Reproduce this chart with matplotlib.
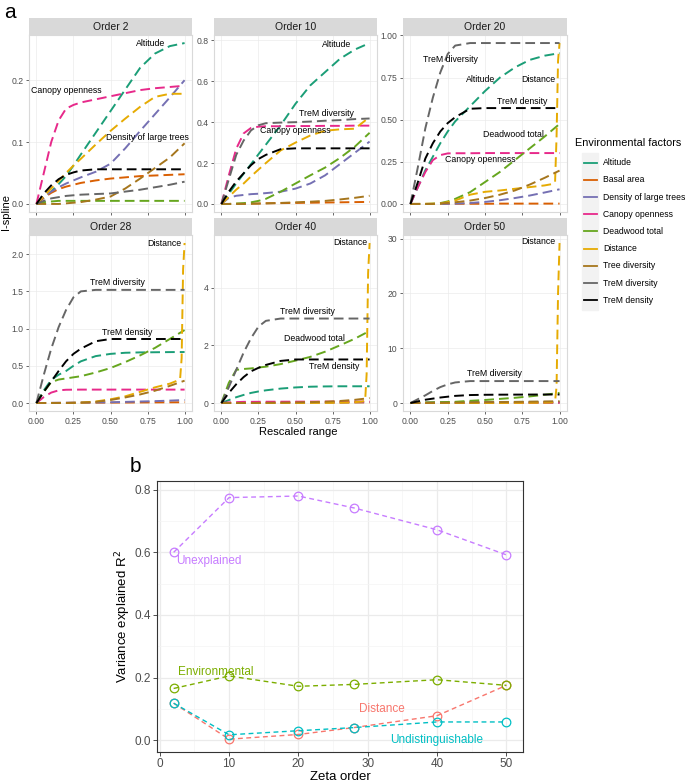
import matplotlib
matplotlib.use("Agg")
import matplotlib.pyplot as plt
from matplotlib.lines import Line2D
from matplotlib.patches import Rectangle
from matplotlib.ticker import MultipleLocator

plt.rcParams["font.family"] = ["Liberation Sans", "DejaVu Sans"]

W, H = 685, 784

# ---- panel a data: I-spline values ----------------------------------------
FACTORS = ["Altitude", "Basal area", "Density of large trees", "Canopy openness",
           "Deadwood total", "Distance", "Tree diversity", "TreM diversity",
           "TreM density"]
COLORS = ["#1B9E77", "#D95F02", "#7570B3", "#E7298A", "#66A61E", "#E6AB02",
          "#A6761D", "#666666", "#000000"]

X_GRID = [0, 0.05, 0.1, 0.15, 0.2, 0.25, 0.3, 0.4, 0.5, 0.6, 0.7, 0.8, 0.9, 1.0]
X_STEP = [0, 0.2, 0.3, 0.4, 0.5, 0.6, 0.7, 0.8, 0.9, 0.95, 0.97, 0.98, 0.99, 1.0]

ORDER2 = {
    "Altitude": [0, 0.01, 0.02, 0.032, 0.045, 0.062, 0.08, 0.115, 0.15, 0.185, 0.22, 0.243, 0.255, 0.26],
    "Basal area": [0, 0.01, 0.018, 0.024, 0.028, 0.031, 0.034, 0.038, 0.041, 0.043, 0.045, 0.046, 0.047, 0.048],
    "Density of large trees": [0, 0.012, 0.02, 0.027, 0.033, 0.038, 0.043, 0.052, 0.065, 0.09, 0.118, 0.145, 0.172, 0.2],
    "Canopy openness": [0, 0.05, 0.1, 0.135, 0.154, 0.16, 0.164, 0.169, 0.174, 0.179, 0.184, 0.187, 0.189, 0.191],
    "Deadwood total": [0, 0.003, 0.004, 0.005, 0.005, 0.005, 0.005, 0.005, 0.005, 0.005, 0.005, 0.005, 0.005, 0.005],
    "Distance": [0, 0.013, 0.025, 0.037, 0.05, 0.062, 0.073, 0.096, 0.118, 0.138, 0.157, 0.173, 0.178, 0.178],
    "Tree diversity": [0, 0, 0, 0, 0.001, 0.002, 0.003, 0.007, 0.012, 0.025, 0.041, 0.058, 0.075, 0.098],
    "TreM diversity": [0, 0.005, 0.009, 0.011, 0.013, 0.014, 0.015, 0.016, 0.017, 0.02, 0.023, 0.027, 0.031, 0.036],
    "TreM density": [0, 0.017, 0.03, 0.04, 0.047, 0.051, 0.054, 0.056, 0.056, 0.056, 0.056, 0.056, 0.056, 0.056],
}
ORDER10 = {
    "Altitude": [0, 0.05, 0.1, 0.148, 0.195, 0.243, 0.29, 0.385, 0.49, 0.58, 0.645, 0.71, 0.755, 0.787],
    "Basal area": [0, 0, 0.001, 0.001, 0.002, 0.002, 0.003, 0.004, 0.005, 0.006, 0.007, 0.008, 0.009, 0.01],
    "Density of large trees": [0, 0.03, 0.04, 0.044, 0.048, 0.05, 0.053, 0.06, 0.075, 0.1, 0.14, 0.195, 0.25, 0.305],
    "Canopy openness": [0, 0.14, 0.27, 0.345, 0.372, 0.378, 0.38, 0.38, 0.381, 0.381, 0.382, 0.382, 0.383, 0.383],
    "Deadwood total": [0, 0, 0.002, 0.004, 0.008, 0.015, 0.025, 0.06, 0.1, 0.14, 0.178, 0.225, 0.28, 0.348],
    "Distance": [0, 0.035, 0.07, 0.1, 0.135, 0.168, 0.2, 0.262, 0.3, 0.335, 0.358, 0.365, 0.368, 0.425],
    "Tree diversity": [0, 0, 0, 0, 0.001, 0.002, 0.003, 0.005, 0.008, 0.011, 0.015, 0.022, 0.03, 0.04],
    "TreM diversity": [0, 0.12, 0.24, 0.31, 0.36, 0.385, 0.395, 0.398, 0.4, 0.403, 0.407, 0.41, 0.415, 0.418],
    "TreM density": [0, 0.06, 0.11, 0.15, 0.19, 0.22, 0.24, 0.268, 0.272, 0.272, 0.272, 0.272, 0.272, 0.272],
}
ORDER20 = {
    "Altitude": [0, 0.1, 0.2, 0.28, 0.36, 0.43, 0.49, 0.58, 0.67, 0.75, 0.81, 0.855, 0.88, 0.895],
    "Basal area": [0, 0, 0, 0, 0, 0.001, 0.001, 0.001, 0.001, 0.002, 0.002, 0.002, 0.002, 0.002],
    "Density of large trees": [0, 0, 0, 0, 0, 0.001, 0.002, 0.006, 0.012, 0.022, 0.035, 0.05, 0.068, 0.087],
    "Canopy openness": [0, 0.1, 0.19, 0.26, 0.29, 0.3, 0.301, 0.301, 0.302, 0.302, 0.302, 0.302, 0.302, 0.302],
    "Deadwood total": [0, 0, 0, 0.002, 0.005, 0.015, 0.03, 0.07, 0.13, 0.19, 0.26, 0.33, 0.4, 0.475],
    "Distance": [0, 0.002, 0.02, 0.055, 0.072, 0.08, 0.09, 0.1, 0.11, 0.118, 0.13, 0.4, 0.85, 0.955],
    "Tree diversity": [0, 0, 0, 0, 0.003, 0.006, 0.01, 0.02, 0.035, 0.055, 0.08, 0.115, 0.155, 0.198],
    "TreM diversity": [0, 0.22, 0.45, 0.63, 0.78, 0.89, 0.94, 0.955, 0.955, 0.955, 0.955, 0.955, 0.955, 0.955],
    "TreM density": [0, 0.13, 0.27, 0.36, 0.43, 0.48, 0.515, 0.565, 0.569, 0.569, 0.569, 0.569, 0.569, 0.569],
}
ORDER28 = {
    "Altitude": [0, 0.17, 0.31, 0.38, 0.43, 0.5, 0.56, 0.63, 0.66, 0.675, 0.68, 0.682, 0.684, 0.685],
    "Basal area": [0, 0, 0.001, 0.002, 0.002, 0.003, 0.003, 0.004, 0.005, 0.006, 0.007, 0.008, 0.009, 0.01],
    "Density of large trees": [0, 0, 0.002, 0.003, 0.004, 0.005, 0.006, 0.008, 0.01, 0.015, 0.02, 0.025, 0.032, 0.04],
    "Canopy openness": [0, 0.08, 0.14, 0.17, 0.178, 0.179, 0.18, 0.18, 0.18, 0.18, 0.18, 0.18, 0.18, 0.18],
    "Deadwood total": [0, 0.15, 0.28, 0.315, 0.33, 0.345, 0.36, 0.41, 0.47, 0.55, 0.64, 0.74, 0.86, 0.98],
    "Distance": [0, 0.0, 0.005, 0.02, 0.05, 0.09, 0.15, 0.21, 0.26, 0.3, 0.33, 0.6, 1.8, 2.15],
    "Tree diversity": [0, 0, 0, 0, 0, 0.002, 0.005, 0.015, 0.04, 0.075, 0.115, 0.165, 0.23, 0.3],
    "TreM diversity": [0, 0.38, 0.73, 1.02, 1.25, 1.42, 1.5, 1.52, 1.52, 1.52, 1.52, 1.52, 1.52, 1.52],
    "TreM density": [0, 0.15, 0.29, 0.43, 0.56, 0.66, 0.73, 0.83, 0.86, 0.86, 0.86, 0.86, 0.86, 0.86],
}
ORDER40 = {
    "Altitude": [0, 0.1, 0.2, 0.28, 0.35, 0.4, 0.44, 0.5, 0.54, 0.565, 0.575, 0.58, 0.58, 0.58],
    "Basal area": [0, 0, 0.001, 0.002, 0.003, 0.004, 0.005, 0.007, 0.009, 0.011, 0.013, 0.015, 0.017, 0.02],
    "Density of large trees": [0, 0.002, 0.004, 0.006, 0.008, 0.01, 0.012, 0.015, 0.018, 0.02, 0.022, 0.025, 0.027, 0.03],
    "Canopy openness": [0, 0.02, 0.03, 0.04, 0.04, 0.042, 0.044, 0.045, 0.046, 0.047, 0.048, 0.049, 0.05, 0.05],
    "Deadwood total": [0, 0.7, 1.15, 1.18, 1.2, 1.23, 1.26, 1.35, 1.47, 1.6, 1.78, 2.0, 2.23, 2.5],
    "Distance": [0, 0, 0, 0, 0.002, 0.004, 0.006, 0.01, 0.03, 0.05, 0.08, 1.0, 4.5, 5.55],
    "Tree diversity": [0, 0, 0, 0, 0.002, 0.005, 0.008, 0.013, 0.02, 0.03, 0.045, 0.07, 0.11, 0.17],
    "TreM diversity": [0, 0.55, 1.15, 1.75, 2.25, 2.65, 2.85, 2.93, 2.93, 2.93, 2.93, 2.93, 2.93, 2.93],
    "TreM density": [0, 0.35, 0.65, 0.9, 1.1, 1.22, 1.32, 1.46, 1.51, 1.51, 1.51, 1.51, 1.51, 1.51],
}
ORDER50 = {
    "Altitude": [0, 0.03, 0.06, 0.09, 0.11, 0.13, 0.15, 0.17, 0.18, 0.19, 0.2, 0.2, 0.2, 0.2],
    "Basal area": [0, 0, 0.01, 0.01, 0.02, 0.02, 0.03, 0.03, 0.04, 0.04, 0.05, 0.05, 0.06, 0.06],
    "Density of large trees": [0, 0, 0.01, 0.01, 0.02, 0.02, 0.02, 0.03, 0.03, 0.04, 0.04, 0.05, 0.05, 0.06],
    "Canopy openness": [0, 0.02, 0.04, 0.05, 0.06, 0.06, 0.07, 0.07, 0.07, 0.07, 0.07, 0.07, 0.07, 0.07],
    "Deadwood total": [0, 0.05, 0.1, 0.12, 0.15, 0.18, 0.22, 0.4, 0.55, 0.75, 0.95, 1.2, 1.5, 1.85],
    "Distance": [0, 0, 0, 0, 0, 0.01, 0.02, 0.03, 0.05, 0.1, 0.3, 3.0, 20.0, 29.2],
    "Tree diversity": [0, 0, 0.01, 0.02, 0.03, 0.05, 0.07, 0.1, 0.13, 0.16, 0.2, 0.24, 0.28, 0.33],
    "TreM diversity": [0, 0.7, 1.4, 2.2, 2.9, 3.4, 3.75, 4.0, 4.0, 4.0, 4.0, 4.0, 4.0, 4.0],
    "TreM density": [0, 0.3, 0.6, 0.8, 1.0, 1.15, 1.3, 1.45, 1.5, 1.52, 1.53, 1.54, 1.55, 1.55],
}

ORDERS = [2, 10, 20, 28, 40, 50]
ORDER_DATA = [ORDER2, ORDER10, ORDER20, ORDER28, ORDER40, ORDER50]
DIST_X = [X_GRID, X_GRID, X_STEP, X_STEP, X_STEP, X_STEP]
Y_TICKS = [[0.0, 0.1, 0.2], [0.0, 0.2, 0.4, 0.6, 0.8],
           [0.0, 0.25, 0.5, 0.75, 1.0], [0.0, 0.5, 1.0, 1.5, 2.0],
           [0, 2, 4], [0, 10, 20, 30]]
Y_FMT = ["{:.1f}", "{:.1f}", "{:.2f}", "{:.1f}", "{:.0f}", "{:.0f}"]

# curve labels (text, x, y) per facet
LABELS = [
    [("Altitude", 0.77, 0.26), ("Canopy openness", 0.2, 0.183),
     ("Density of large trees", 0.75, 0.107)],
    [("Altitude", 0.78, 0.78), ("TreM diversity", 0.71, 0.442),
     ("Canopy openness", 0.5, 0.358)],
    [("TreM diversity", 0.27, 0.86), ("Altitude", 0.47, 0.737),
     ("Distance", 0.86, 0.737), ("TreM density", 0.75, 0.608),
     ("Deadwood total", 0.69, 0.41), ("Canopy openness", 0.47, 0.265)],
    [("Distance", 0.86, 2.14), ("TreM diversity", 0.55, 1.62),
     ("TreM density", 0.61, 0.95)],
    [("Distance", 0.87, 5.58), ("TreM diversity", 0.58, 3.19),
     ("Deadwood total", 0.63, 2.25), ("TreM density", 0.76, 1.28)],
    [("Distance", 0.86, 29.4), ("TreM diversity", 0.56, 5.44)],
]

# ---- panel b data ---------------------------------------------------------
ZETA = [2, 10, 20, 28, 40, 50]
UNEXPLAINED = [0.60, 0.775, 0.78, 0.742, 0.672, 0.592]
ENVIRONMENTAL = [0.165, 0.205, 0.172, 0.178, 0.193, 0.175]
DISTANCE = [0.118, 0.003, 0.018, 0.04, 0.078, 0.175]
UNDISTINGUISHABLE = [0.118, 0.017, 0.03, 0.04, 0.058, 0.058]
B_SERIES = [("Distance", DISTANCE, "#F8766D", 32.0, 0.098),
            ("Environmental", ENVIRONMENTAL, "#7CAE00", 8.1, 0.219),
            ("Undistinguishable", UNDISTINGUISHABLE, "#00BFC4", 40.0, 0.0),
            ("Unexplained", UNEXPLAINED, "#C77CFF", 7.1, 0.571)]


def box(left, top, right, bottom):
    return [left / W, 1 - bottom / H, (right - left) / W, (bottom - top) / H]


fig = plt.figure(figsize=(W / 100, H / 100), dpi=100)

cols = [(29, 192), (214, 377), (403, 567)]
rows = [(35, 212), (235, 411)]

for k, (order, data) in enumerate(zip(ORDERS, ORDER_DATA)):
    r, c = divmod(k, 3)
    l, rr = cols[c]
    t, b = rows[r]
    ax = fig.add_axes(box(l, t, rr, b))
    sax = fig.add_axes(box(l, t - 17, rr, t))
    sax.set_facecolor("#D9D9D9")
    sax.set_xticks([])
    sax.set_yticks([])
    for s in sax.spines.values():
        s.set_visible(False)
    sax.text(0.5, 0.5, f"Order {order}", ha="center", va="center",
             fontsize=7.5, color="#1A1A1A", transform=sax.transAxes)

    for name, col in zip(FACTORS, COLORS):
        xs = DIST_X[k] if name == "Distance" else X_GRID
        ax.plot(xs, data[name], color=col, lw=1.4, dashes=(5, 2.6),
                solid_capstyle="butt")
    for txt, tx, ty in LABELS[k]:
        ax.text(tx, ty, txt, ha="center", va="center", fontsize=6.3,
                color="black")

    ax.set_xlim(-0.05, 1.05)
    ax.margins(y=0.05)
    ax.set_xticks([0, 0.25, 0.5, 0.75, 1.0])
    ax.set_yticks(Y_TICKS[k])
    ax.set_yticklabels([Y_FMT[k].format(v) for v in Y_TICKS[k]])
    if r == 1:
        ax.set_xticklabels(["0.00", "0.25", "0.50", "0.75", "1.00"])
    else:
        ax.set_xticklabels([])
    ax.tick_params(labelsize=6.2, labelcolor="#4D4D4D", color="#4D4D4D",
                   length=2.5, width=0.6, pad=1.5)
    ax.grid(True, color="#EBEBEB", lw=0.5)
    ax.set_axisbelow(True)
    for s in ax.spines.values():
        s.set_color("#D9D9D9")
        s.set_linewidth(0.8)

fig.text(4 / W, 1 - 12 / H, "a", fontsize=15, ha="left", va="center")
fig.text(6 / W, 1 - 212 / H, "I-spline", rotation=90, fontsize=8,
         ha="center", va="center")
fig.text(298 / W, 1 - 432 / H, "Rescaled range", fontsize=8,
         ha="center", va="center")

# legend, drawn by hand
fig.text(575 / W, 1 - 143 / H, "Environmental factors", fontsize=7.8,
         ha="left", va="center")
fig.patches.append(Rectangle((582 / W, 1 - 310 / H), 16 / W, 157 / H,
                             transform=fig.transFigure, color="#F2F2F2",
                             zorder=0))
for i, (name, col) in enumerate(zip(FACTORS, COLORS)):
    yy = 1 - (162.7 + i * 17.2) / H
    fig.lines.append(Line2D([584 / W, 597 / W], [yy, yy], color=col, lw=1.3,
                            transform=fig.transFigure))
    fig.text(603 / W, yy, name, fontsize=6.2, ha="left", va="center")

# ---- panel b --------------------------------------------------------------
bx = fig.add_axes(box(157, 481, 523, 752))
for name, vals, col, lx, ly in B_SERIES:
    bx.plot(ZETA, vals, color=col, lw=1.0, dashes=(3.5, 2.5), marker="o",
            markersize=6.2, markerfacecolor="none", markeredgecolor=col,
            markeredgewidth=0.9)
    bx.text(lx, ly, name, color=col, fontsize=8.5, ha="center", va="center")

bx.set_xlim(-0.4, 52.4)
bx.set_ylim(-0.038, 0.828)
bx.xaxis.set_major_locator(MultipleLocator(10))
bx.xaxis.set_minor_locator(MultipleLocator(5))
bx.yaxis.set_minor_locator(MultipleLocator(0.1))
bx.set_yticks([0.0, 0.2, 0.4, 0.6, 0.8])
bx.set_yticklabels(["0.0", "0.2", "0.4", "0.6", "0.8"])
bx.grid(True, which="major", color="#EBEBEB", lw=0.9)
bx.grid(True, which="minor", color="#F4F4F4", lw=0.5)
bx.set_axisbelow(True)
bx.tick_params(which="major", labelsize=8.5, labelcolor="#4D4D4D",
               color="#333333", length=3, width=0.6, pad=1.5)
bx.tick_params(which="minor", length=0)
for s in bx.spines.values():
    s.set_color("#333333")
    s.set_linewidth(0.8)
bx.set_xlabel("Zeta order", fontsize=9.5, labelpad=0.5)
bx.set_ylabel("Variance explained R$^2$", fontsize=9.5, labelpad=1)

fig.text(135 / W, 1 - 467 / H, "b", fontsize=15, ha="center", va="center")

fig.savefig("out.png", dpi=100)
